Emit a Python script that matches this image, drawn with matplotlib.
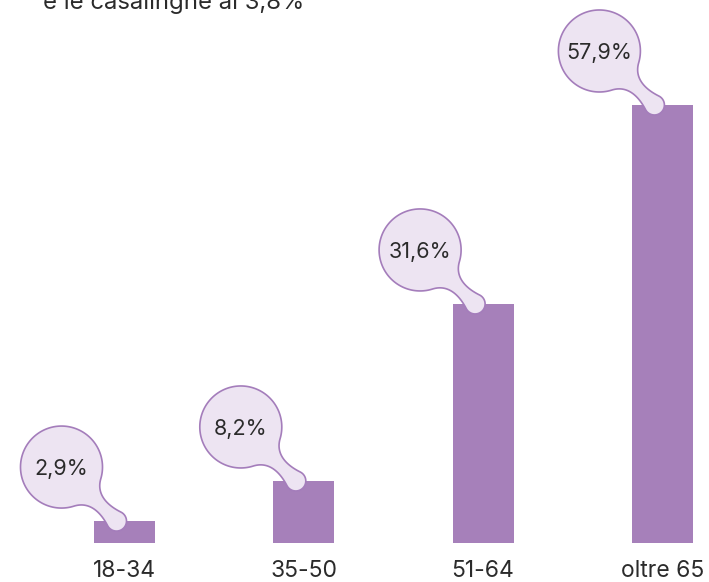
import numpy as np
import matplotlib.pyplot as plt
from matplotlib.patches import Polygon
from matplotlib.transforms import ScaledTranslation

# dati
categories = ['18-34', '35-50', '51-64', 'oltre 65']
values = [2.9, 8.2, 31.6, 57.9]
value_labels = ['2,9%', '8,2%', '31,6%', '57,9%']
subtitle = 'e le casalinghe al 3,8%'

BAR = '#a680ba'
FILL = '#ede4f2'
EDGE = '#a47dbb'
TXT = '#2b2b2b'

plt.rcParams['font.family'] = ['Inter', 'DejaVu Sans']


def bezier(p0, p1, p2, p3, n=30):
    t = np.linspace(0, 1, n)[:, None]
    return (1 - t)**3 * p0 + 3 * (1 - t)**2 * t * p1 + 3 * (1 - t) * t**2 * p2 + t**3 * p3


def unit(a):
    return np.array([np.cos(a), np.sin(a)])


def tang(a):
    return np.array([-np.sin(a), np.cos(a)])


def bubble_outline(bx=-55.0, by=54.0, R=41.0, r=10.0, k=16.0):
    """Contorno del fumetto in pixel, relativo al centro del cerchietto"""
    B = np.array([bx, by])
    phi = np.arctan2(-by, -bx)
    hb, hs = np.radians(28), np.radians(72)
    a1, a2 = phi + hb, phi - hb + 2 * np.pi
    s2, s1 = phi + np.pi + hs, phi + np.pi - hs + 2 * np.pi
    big = B + R * np.array([unit(a) for a in np.linspace(a1, a2, 200)])
    P1, P2 = big[0], big[-1]
    small = r * np.array([unit(a) for a in np.linspace(s2, s1, 80)])
    Q2, Q1 = small[0], small[-1]
    neck1 = bezier(P2, P2 + k * tang(a2), Q2 - k * tang(s2), Q2)
    neck2 = bezier(Q1, Q1 + k * tang(s1), P1 - k * tang(a1), P1)
    return np.vstack([big, neck1, small, neck2])


fig = plt.figure(figsize=(7.09, 5.82), dpi=100)
ax = fig.add_axes([0, 39 / 582, 1, 543 / 582])

x = np.arange(len(categories))
ax.bar(x, values, width=0.34, color=BAR, zorder=1)
ax.set_xlim(-124.5 / 179.3, (709 - 124.5) / 179.3)
ax.set_ylim(0, (582 - 39) / 7.565)

ax.set_xticks(x)
ax.set_xticklabels(categories, fontsize=16.5, color=TXT)
ax.tick_params(axis='x', length=0, pad=12)
ax.set_yticks([])
for s in ax.spines.values():
    s.set_visible(False)

bx, by, dx = -55.0, 54.0, -8.0
outline = bubble_outline(bx, by)
outline[:, 0] += dx
for i, (v, lab) in enumerate(zip(values, value_labels)):
    trans = fig.dpi_scale_trans + ScaledTranslation(i, v, ax.transData)
    poly = Polygon(outline / fig.dpi, closed=True, transform=trans,
                   facecolor=FILL, edgecolor=EDGE, linewidth=1.2,
                   zorder=3, clip_on=False)
    ax.add_patch(poly)
    ax.annotate(lab, xy=(i, v), xytext=(bx + dx, by), textcoords='offset pixels',
                ha='center', va='center_baseline', fontsize=15.5, color=TXT,
                zorder=4)

fig.text(43 / 709, 573 / 582, subtitle, fontsize=17.2, color=TXT,
         ha='left', va='baseline')

fig.savefig('out.png', dpi=100)
